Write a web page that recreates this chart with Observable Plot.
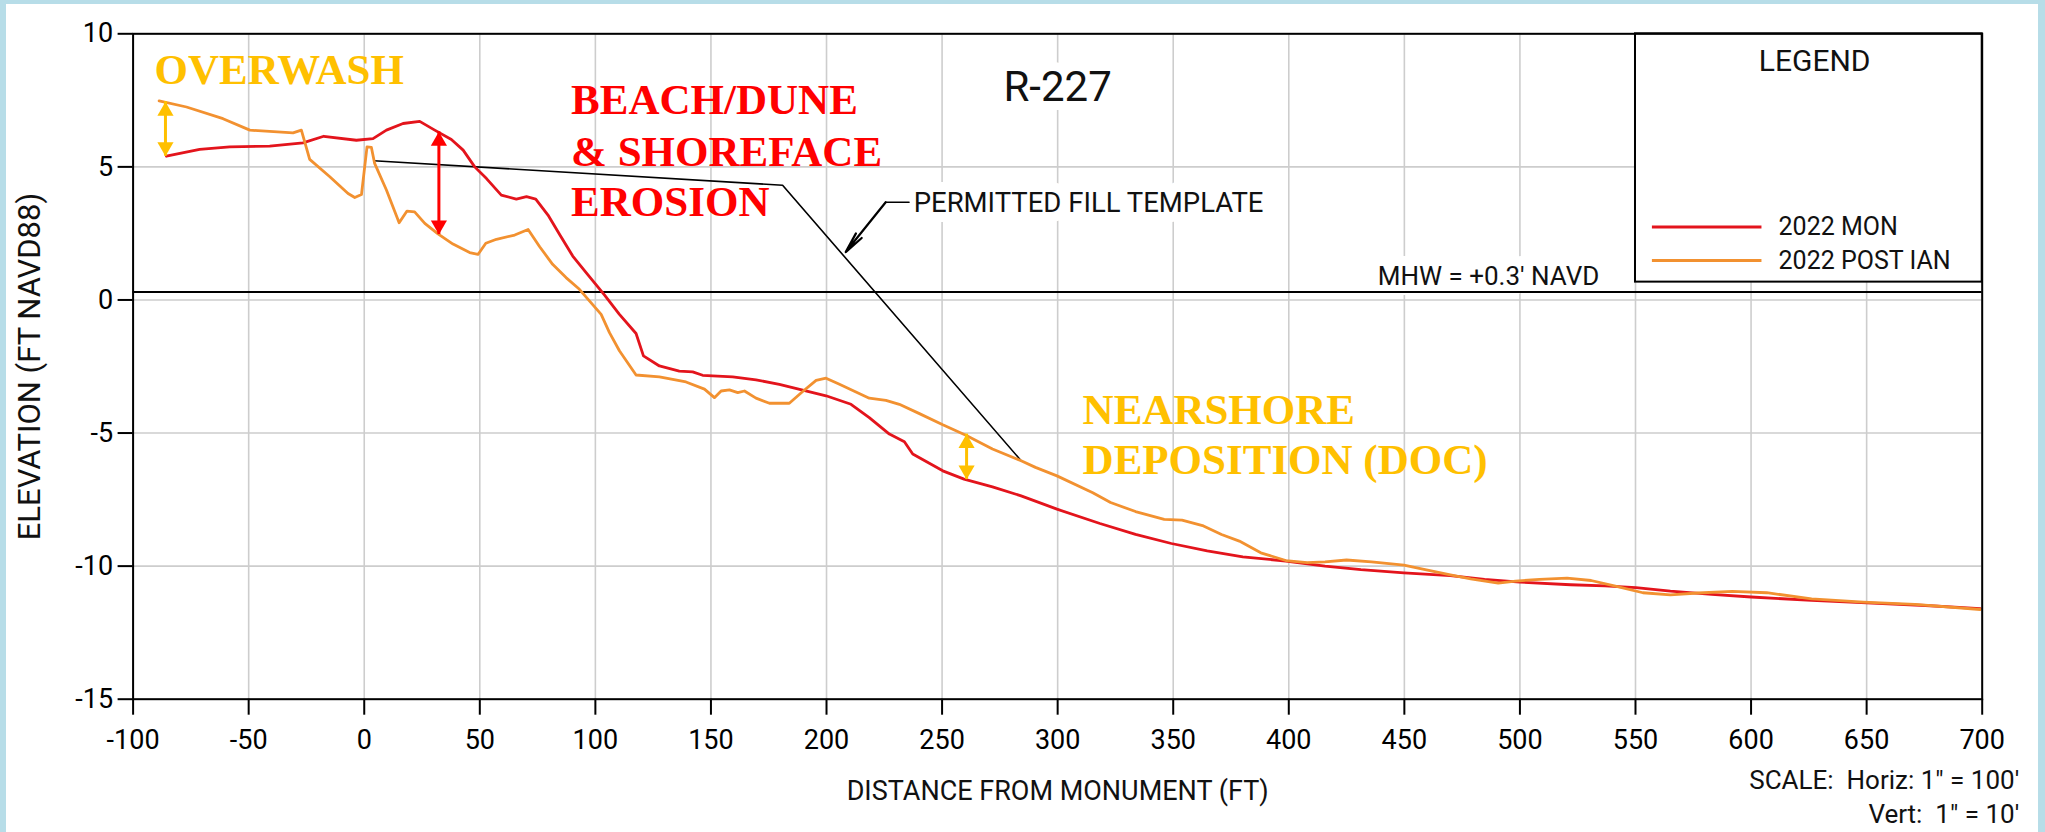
<!DOCTYPE html>
<html>
<head>
<meta charset="utf-8">
<script src="https://cdn.jsdelivr.net/npm/d3@7"></script>
<script src="https://cdn.jsdelivr.net/npm/@observablehq/plot@0.6"></script>
<style>
html, body { margin: 0; padding: 0; }
body { width: 2045px; height: 832px; background: #b7dde8; position: relative; overflow: hidden; }
#paper { position: absolute; left: 6px; top: 4px; width: 2032px; height: 828px; background: #ffffff; }
#chart { position: absolute; left: 0; top: 0; }
</style>
</head>
<body>
<div id="paper"></div>
<div id="chart"></div>
<script>
// ---- Tick values ----
const xTicks = [-100, -50, 0, 50, 100, 150, 200, 250, 300, 350, 400, 450, 500, 550, 600, 650, 700];
const yTicks = [-15, -10, -5, 0, 5, 10];

// ---- 2022 MON profile (distance ft, elevation ft NAVD88) ----
const monX = [-85.6, -71.2, -58.2, -40.9, -26.5, -17.5, -3.4, 3.8, 9.6, 16.8, 24.0, 30.5, 37.7, 42.8, 47.8, 52.9, 59.3, 65.8, 70.2, 74.2, 79.5, 84.6,
  90.2, 96.0, 103.9, 110.4, 117.6, 120.8, 127.7, 136.3, 142.1, 146.4, 159.4, 169.5, 179.6, 189.7, 199.8, 210.6, 218.5, 227.2, 233.7, 237.3, 250.3,
  259.5, 271.8, 284.2, 299.7, 318.3, 333.7, 349.2, 364.7, 380.1, 398.7, 415.7, 431.2, 449.8, 469.9, 484.7, 500.0, 521.9, 536.8, 550.2, 565.1,
  583.0, 600.1, 626.2, 650.0, 675.4, 699.2];
const monY = [5.40, 5.66, 5.75, 5.78, 5.90, 6.15, 6.00, 6.06, 6.38, 6.63, 6.71, 6.38, 6.03, 5.63, 5.00, 4.56, 3.94, 3.79, 3.88, 3.79, 3.19, 2.45,
  1.65, 1.03, 0.19, -0.54, -1.26, -2.10, -2.48, -2.67, -2.70, -2.83, -2.89, -3.00, -3.17, -3.39, -3.60, -3.92, -4.42, -5.04, -5.33, -5.79, -6.42,
  -6.73, -7.02, -7.36, -7.86, -8.40, -8.81, -9.15, -9.43, -9.65, -9.81, -10.00, -10.13, -10.25, -10.36, -10.50, -10.60, -10.70, -10.74, -10.81, -10.94,
  -11.06, -11.16, -11.29, -11.38, -11.48, -11.60];

// ---- 2022 POST IAN profile ----
const postX = [-88.75, -76.9, -61.1, -49.5, -30.8, -27.2, -23.6, -14.9, -7.0, -4.1, -1.2, 1.2, 3.1, 4.5, 9.6, 15.1, 18.5, 21.8, 26.2, 31.9, 38.4,
  45.6, 49.2, 52.6, 57.2, 65.1, 70.9, 75.9, 81.5, 87.3, 93.1, 102.5, 106.1, 110.4, 117.6, 127.7, 139.2, 147.2, 151.5, 154.4, 158.0, 161.6, 164.5,
  169.5, 175.3, 183.9, 189.7, 195.5, 199.8, 205.6, 218.5, 225.7, 231.5, 240.2, 250.3, 260.3, 271.8, 284.2, 290.4, 299.7, 315.2, 322.9, 333.7,
  346.1, 353.8, 363.1, 370.9, 378.6, 387.9, 398.7, 408.0, 415.7, 425.0, 435.8, 449.8, 459.0, 469.9, 478.7, 490.6, 498.1, 508.5, 520.4, 530.8,
  541.3, 553.2, 565.1, 577.0, 591.9, 606.8, 626.2, 648.6, 670.9, 699.2];
const postY = [7.48, 7.25, 6.81, 6.38, 6.28, 6.38, 5.28, 4.63, 4.00, 3.85, 3.96, 5.75, 5.73, 5.13, 4.13, 2.90, 3.34, 3.31, 2.88, 2.48, 2.10,
  1.78, 1.71, 2.13, 2.28, 2.44, 2.65, 2.00, 1.34, 0.84, 0.40, -0.54, -1.23, -1.91, -2.82, -2.89, -3.08, -3.35, -3.67, -3.42, -3.38, -3.48, -3.42,
  -3.69, -3.88, -3.88, -3.44, -3.02, -2.94, -3.17, -3.69, -3.77, -3.92, -4.27, -4.69, -5.08, -5.60, -6.04, -6.29, -6.61, -7.24, -7.61, -7.95,
  -8.24, -8.27, -8.49, -8.81, -9.06, -9.50, -9.79, -9.87, -9.84, -9.77, -9.84, -9.96, -10.13, -10.33, -10.48, -10.64, -10.56, -10.50, -10.45, -10.54,
  -10.75, -11.00, -11.08, -11.01, -10.95, -11.00, -11.23, -11.35, -11.44, -11.63];

// ---- Permitted fill template ----
const templateX = [4.1, 181.0, 284.2];
const templateY = [5.23, 4.31, -6.04];

// ---- Mean high water ----
const mhwElev = [0.3];

// ---- Leader to template ----
const leaderX = [235.7, 225.6, 208.3];
const leaderY = [3.67, 3.67, 1.80];

// ---- Change arrows (double headed) ----
const arrowX = [-86.0, 32.3, 260.6];
const arrowTop = [7.45, 6.32, -5.04];
const arrowBottom = [5.40, 2.46, -6.74];
const arrowColor = ["#FFC000", "#FF0000", "#FFC000"];

// ---- Annotation words ----
const annoLabel = ["OVERWASH", "BEACH/DUNE", "& SHOREFACE", "EROSION", "NEARSHORE", "DEPOSITION (DOC)"];
const annoX = [-90.7, 89.5, 89.5, 89.5, 310.8, 310.8];
const annoY = [8.12, 7.0, 5.05, 3.17, -4.65, -6.53];
const annoColor = ["#FFC000", "#FF0000", "#FF0000", "#FF0000", "#FFC000", "#FFC000"];

// ---- Drawing labels ----
const titleText = ["R-227"];
const titleX = [300];
const titleY = [7.49];
const noteText = ["PERMITTED FILL TEMPLATE", "MHW = +0.3' NAVD"];
const noteX = [237.7, 438.5];
const noteY = [3.30, 0.545];
const noteSize = [27.5, 26];

// ---- Legend ----
const legendBoxX = [550, 700];
const legendBoxY = [0.67, 10];
const legendTitle = ["LEGEND"];
const legendTitleX = [627.5];
const legendTitleY = [8.62];
const legendNames = ["2022 MON", "2022 POST IAN"];
const legendColors = ["#E3141C", "#F29130"];
const legendLineX1 = [557.1, 557.1];
const legendLineX2 = [604.5, 604.5];
const legendRowY = [2.74, 1.48];
const legendTextX = [611.9, 611.9];

const scaleLines = ["SCALE:  Horiz: 1\" = 100'", "Vert:  1\" = 10'"];

// ---- Tables built from arrays ----
const mon = monX.map((x, i) => ({x, y: monY[i]}));
const post = postX.map((x, i) => ({x, y: postY[i]}));
const template = templateX.map((x, i) => ({x, y: templateY[i]}));
const leader = leaderX.map((x, i) => ({x, y: leaderY[i]}));
const arrows = arrowX.map((x, i) => ({x, top: arrowTop[i], bottom: arrowBottom[i], color: arrowColor[i]}));
const annos = annoLabel.map((t, i) => ({t, x: annoX[i], y: annoY[i], color: annoColor[i]}));
const notes = noteText.map((t, i) => ({t, x: noteX[i], y: noteY[i], size: noteSize[i]}));
const legendRows = legendNames.map((t, i) => ({t, color: legendColors[i], x1: legendLineX1[i], x2: legendLineX2[i], y: legendRowY[i], tx: legendTextX[i]}));

const sans = "Roboto, 'Liberation Sans', Arial, sans-serif";
const serif = "'Liberation Serif', 'Times New Roman', serif";

const chart = Plot.plot({
  width: 2045,
  height: 832,
  marginLeft: 132.6,
  marginRight: 63.3,
  marginTop: 33.3,
  marginBottom: 133.3,
  x: {domain: [-100, 700]},
  y: {domain: [-15, 10]},
  color: {type: "identity"},
  style: {background: "transparent", color: "black", fontFamily: sans, overflow: "visible"},
  marks: [
    Plot.gridX(xTicks, {stroke: "#cdcdcd", strokeOpacity: 1, strokeWidth: 1.6}),
    Plot.gridY(yTicks, {stroke: "#cdcdcd", strokeOpacity: 1, strokeWidth: 1.6}),
    // legend box
    Plot.rect([0], {x1: () => legendBoxX[0], x2: () => legendBoxX[1], y1: () => legendBoxY[0], y2: () => legendBoxY[1], fill: "white", stroke: "black", strokeWidth: 2}),
    // labels with white knock-out
    Plot.text(titleText, {x: (d, i) => titleX[i], y: (d, i) => titleY[i], text: d => d, fontSize: 42, textAnchor: "middle", lineAnchor: "bottom", fill: "#111", stroke: "white", strokeWidth: 18, fontFamily: sans}),
    Plot.text(notes, {x: "x", y: "y", text: "t", fontSize: "size", textAnchor: "start", lineAnchor: "bottom", fill: "#111", stroke: "white", strokeWidth: 20, fontFamily: sans}),
    // template and MHW
    Plot.line(template, {x: "x", y: "y", stroke: "black", strokeWidth: 1.6}),
    Plot.ruleY(mhwElev, {stroke: "black", strokeWidth: 2}),
    // leader
    Plot.line(leader.slice(0, 2), {x: "x", y: "y", stroke: "black", strokeWidth: 1.6}),
    Plot.arrow([0], {x1: () => leaderX[1], y1: () => leaderY[1], x2: () => leaderX[2], y2: () => leaderY[2], stroke: "black", strokeWidth: 2.2, headLength: 16, headAngle: 20}),
    // profiles
    Plot.line(mon, {x: "x", y: "y", stroke: legendColors[0], strokeWidth: 2.8}),
    Plot.line(post, {x: "x", y: "y", stroke: legendColors[1], strokeWidth: 2.8}),
    // change arrows
    Plot.ruleX(arrows, {x: "x", y1: "top", y2: "bottom", stroke: "color", strokeWidth: 3}),
    Plot.dot(arrows, {x: "x", y: "top", fill: "color", symbol: "triangle", r: 6, stroke: null, dy: 9.3}),
    Plot.dot(arrows, {x: "x", y: "bottom", fill: "color", symbol: "triangle", r: 6, stroke: null, rotate: 180, dy: -9.3}),
    // annotation words
    Plot.text(annos, {x: "x", y: "y", text: "t", fill: "color", fontSize: 43, fontWeight: "bold", fontFamily: serif, textAnchor: "start", lineAnchor: "bottom"}),
    // legend content
    Plot.text(legendTitle, {x: (d, i) => legendTitleX[i], y: (d, i) => legendTitleY[i], text: d => d, fontSize: 30, textAnchor: "middle", lineAnchor: "bottom", fill: "#111"}),
    Plot.link(legendRows, {x1: "x1", x2: "x2", y1: "y", y2: "y", stroke: "color", strokeWidth: 3}),
    Plot.text(legendRows, {x: "tx", y: "y", text: "t", fontSize: 25, textAnchor: "start", lineAnchor: "middle", fill: "#111"}),
    // frame
    Plot.frame({stroke: "black", strokeWidth: 2}),
    // axes
    Plot.axisX(xTicks, {tickSize: 16, tickPadding: 15, fontSize: 27, tickFormat: d => String(d), strokeWidth: 2, label: null}),
    Plot.axisY(yTicks, {tickSize: 15, tickPadding: 5, fontSize: 27, tickFormat: d => String(d), strokeWidth: 2, label: null}),
    // axis titles
    Plot.text(["DISTANCE FROM MONUMENT (FT)"], {frameAnchor: "bottom", dy: 101, text: d => d, fontSize: 27, lineAnchor: "bottom", textAnchor: "middle", fill: "#111"}),
    Plot.text(["ELEVATION (FT NAVD88)"], {frameAnchor: "left", dx: -103, text: d => d, fontSize: 31, rotate: -90, lineAnchor: "middle", textAnchor: "middle", fill: "#111"}),
    // scale note
    Plot.text([scaleLines[0]], {frameAnchor: "bottom-right", dx: 37, dy: 90, text: d => d, fontSize: 26, textAnchor: "end", lineAnchor: "bottom", fill: "#111"}),
    Plot.text([scaleLines[1]], {frameAnchor: "bottom-right", dx: 37, dy: 124, text: d => d, fontSize: 26, textAnchor: "end", lineAnchor: "bottom", fill: "#111"})
  ]
});
document.getElementById("chart").appendChild(chart);
</script>
</body>
</html>
